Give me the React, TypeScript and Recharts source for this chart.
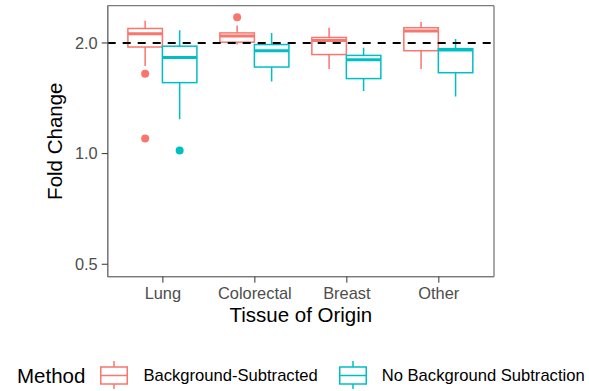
import React from "react";
import { ComposedChart, Bar, XAxis, YAxis, ReferenceLine, Legend, CartesianGrid } from "recharts";

const categories = ["Lung", "Colorectal", "Breast", "Other"];

// Background-Subtracted
const bgLow = [1.73, 1.98, 1.7, 1.7];
const bgQ1 = [1.95, 2.01, 1.86, 1.905];
const bgMedian = [2.12, 2.09, 2.03, 2.155];
const bgQ3 = [2.19, 2.13, 2.07, 2.2];
const bgHigh = [2.3, 2.23, 2.2, 2.28];
const bgOutliers = [[1.65, 1.1], [2.35], [], []];

// No Background Subtraction
const nbgLow = [1.24, 1.57, 1.48, 1.43];
const nbgQ1 = [1.56, 1.72, 1.6, 1.66];
const nbgMedian = [1.825, 1.905, 1.8, 1.915];
const nbgQ3 = [1.96, 1.98, 1.85, 1.93];
const nbgHigh = [2.165, 2.13, 1.94, 2.05];
const nbgOutliers = [[1.02], [], [], []];

const yTicks = [0.5, 1, 2];
const yDomain = [0.4625, 2.526];

const RED = "#F8766D";
const CYAN = "#00BFC4";
const BORDER = "#7a7a7a";
const FONT = "'Liberation Sans', Arial, Helvetica, sans-serif";

const stats = (lo: number[], q1: number[], med: number[], q3: number[], hi: number[], out: number[][], i: number) => {
  const all = [lo[i], hi[i], ...out[i]];
  return {
    lo: lo[i],
    q1: q1[i],
    med: med[i],
    q3: q3[i],
    hi: hi[i],
    out: out[i],
    range: [Math.min(...all), Math.max(...all)],
  };
};

const data = categories.map((category, i) => {
  const bg = stats(bgLow, bgQ1, bgMedian, bgQ3, bgHigh, bgOutliers, i);
  const nbg = stats(nbgLow, nbgQ1, nbgMedian, nbgQ3, nbgHigh, nbgOutliers, i);
  return { category, bg, nbg, bgRange: bg.range, nbgRange: nbg.range };
});

// the bar spans the full range (whiskers + outliers); inner positions follow the log scale
const BoxShape = (props: any) => {
  const { x, y, width, height, payload, series, color } = props;
  const s = payload[series];
  const top = Math.min(y, y + height);
  const bottom = Math.max(y, y + height);
  const [vMin, vMax] = s.range;
  const span = Math.log(vMax) - Math.log(vMin);
  const pos = (v: number) => top + ((bottom - top) * (Math.log(vMax) - Math.log(v))) / span;
  const cx = x + width / 2;
  return (
    <g>
      <line x1={cx} x2={cx} y1={pos(s.hi)} y2={pos(s.q3)} stroke={color} strokeWidth={1.5} />
      <line x1={cx} x2={cx} y1={pos(s.q1)} y2={pos(s.lo)} stroke={color} strokeWidth={1.5} />
      <rect
        x={x}
        y={pos(s.q3)}
        width={width}
        height={pos(s.q1) - pos(s.q3)}
        fill="#fff"
        stroke={color}
        strokeWidth={1.5}
      />
      <line x1={x} x2={x + width} y1={pos(s.med)} y2={pos(s.med)} stroke={color} strokeWidth={3} />
      {s.out.map((o: number, k: number) => (
        <circle key={k} cx={cx} cy={pos(o)} r={4} fill={color} />
      ))}
    </g>
  );
};

const LegendKey = ({ color }: { color: string }) => (
  <svg width={28} height={28} style={{ display: "block", position: "relative", top: -1 }}>
    <line x1={14} x2={14} y1={0} y2={6} stroke={color} strokeWidth={1.5} />
    <line x1={14} x2={14} y1={23} y2={28} stroke={color} strokeWidth={1.5} />
    <rect x={0.75} y={6} width={26.5} height={17} fill="#fff" stroke={color} strokeWidth={1.5} />
    <line x1={0.75} x2={27.25} y1={14.5} y2={14.5} stroke={color} strokeWidth={1.5} />
  </svg>
);

const renderLegend = (props: any) => {
  const { payload } = props;
  return (
    <div style={{ display: "flex", alignItems: "center", fontFamily: FONT, color: "#000" }}>
      <span style={{ fontSize: 20.5, marginRight: 15 }}>Method</span>
      {(payload || []).map((entry: any, i: number) => (
        <div key={entry.value} style={{ display: "flex", alignItems: "center", marginRight: i === 0 ? 21 : 0 }}>
          <LegendKey color={entry.color} />
          <span style={{ fontSize: 16.6, marginLeft: 15, whiteSpace: "nowrap" }}>{entry.value}</span>
        </div>
      ))}
    </div>
  );
};

export default function App() {
  const tickStyle = { fill: "#4D4D4D", fontSize: 16.4 };
  return (
    <div style={{ position: "absolute", left: 0, top: 0, width: 589, height: 391, background: "#fff", fontFamily: FONT }}>
      <ComposedChart
        width={589}
        height={391}
        data={data}
        margin={{ top: 5.7, right: 95, left: 2.3, bottom: 64.3 }}
        barGap={0}
      >
        {/* panel border: lines on the edges of the plot area */}
        <CartesianGrid
          stroke={BORDER}
          strokeWidth={1.3}
          horizontalCoordinatesGenerator={({ offset }: any) => [offset.top, offset.top + offset.height]}
          verticalCoordinatesGenerator={({ offset }: any) => [offset.left, offset.left + offset.width]}
        />
        <XAxis
          dataKey="category"
          padding={{ left: 9.2, right: 9.2 }}
          height={50}
          tick={tickStyle}
          tickSize={6}
          tickMargin={4.7}
          tickLine={{ stroke: "#333" }}
          axisLine={{ stroke: BORDER, strokeWidth: 1.3 }}
          label={{ value: "Tissue of Origin", position: "insideBottom", offset: 5, fill: "#000", fontSize: 20.5 }}
        />
        <YAxis
          type="number"
          scale="log"
          domain={yDomain}
          allowDataOverflow
          ticks={yTicks}
          tickFormatter={(v: number) => v.toFixed(1)}
          width={105.4}
          tick={tickStyle}
          tickSize={6}
          tickMargin={4}
          tickLine={{ stroke: "#333" }}
          axisLine={{ stroke: BORDER, strokeWidth: 1.3 }}
          label={{ value: "Fold Change", angle: -90, position: "center", fill: "#000", fontSize: 20.5 }}
        />
        <Bar
          dataKey="bgRange"
          name="Background-Subtracted"
          fill={RED}
          barSize={34.5}
          isAnimationActive={false}
          shape={(p: any) => <BoxShape {...p} series="bg" color={RED} />}
        />
        <Bar
          dataKey="nbgRange"
          name="No Background Subtraction"
          fill={CYAN}
          barSize={34.5}
          isAnimationActive={false}
          shape={(p: any) => <BoxShape {...p} series="nbg" color={CYAN} />}
        />
        <ReferenceLine y={2} stroke="#000" strokeWidth={2} strokeDasharray="8 7" />
        <Legend
          layout="horizontal"
          verticalAlign="middle"
          align="center"
          content={renderLegend}
          wrapperStyle={{ position: "absolute", left: 17, top: 362, width: "auto" }}
        />
      </ComposedChart>
    </div>
  );
}
